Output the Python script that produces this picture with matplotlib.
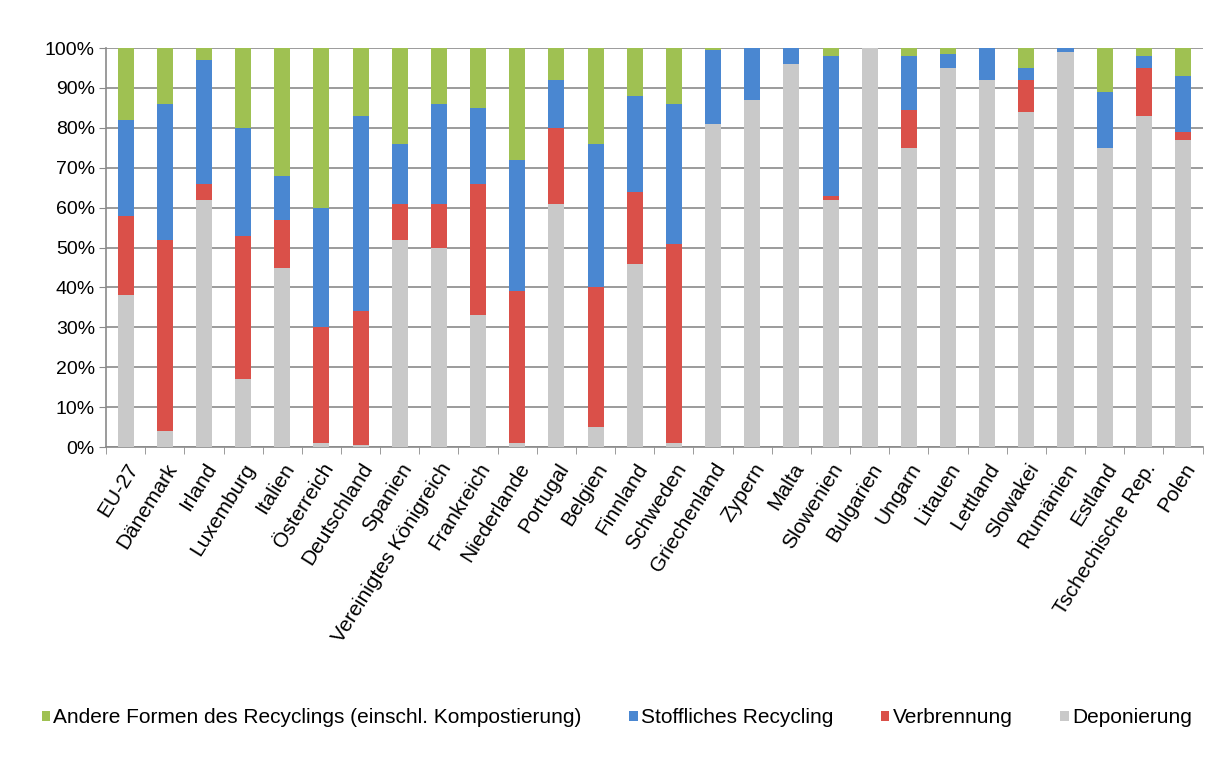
import numpy as np
import matplotlib.pyplot as plt
from matplotlib.ticker import PercentFormatter, FixedLocator

plt.rcParams['font.family'] = ['Liberation Sans', 'DejaVu Sans']

laender = ['EU-27', 'Dänemark', 'Irland', 'Luxemburg', 'Italien', 'Österreich',
           'Deutschland', 'Spanien', 'Vereinigtes Königreich', 'Frankreich',
           'Niederlande', 'Portugal', 'Belgien', 'Finnland', 'Schweden',
           'Griechenland', 'Zypern', 'Malta', 'Slowenien', 'Bulgarien', 'Ungarn',
           'Litauen', 'Lettland', 'Slowakei', 'Rumänien', 'Estland',
           'Tschechische Rep.', 'Polen']

# Anteile in %
deponierung = [38, 4, 62, 17, 45, 1, 0.5, 52, 50, 33, 1, 61, 5, 46, 1,
               81, 87, 96, 62, 100, 75, 95, 92, 84, 99, 75, 83, 77]
verbrennung = [20, 48, 4, 36, 12, 29, 33.5, 9, 11, 33, 38, 19, 35, 18, 50,
               0, 0, 0, 1, 0, 9.5, 0, 0, 8, 0, 0, 12, 2]
stofflich = [24, 34, 31, 27, 11, 30, 49, 15, 25, 19, 33, 12, 36, 24, 35,
             18.5, 13, 4, 35, 0, 13.5, 3.5, 8, 3, 1, 14, 3, 14]
andere = [18, 14, 3, 20, 32, 40, 17, 24, 14, 15, 28, 8, 24, 12, 14,
          0.5, 0, 0, 2, 0, 2, 1.5, 0, 5, 0, 11, 2, 7]

reihen = [
    ('Andere Formen des Recyclings (einschl. Kompostierung)', andere, '#9fc152'),
    ('Stoffliches Recycling', stofflich, '#4a87d1'),
    ('Verbrennung', verbrennung, '#da5049'),
    ('Deponierung', deponierung, '#c9c9c9'),
]

fig = plt.figure(figsize=(12.09, 7.63), dpi=100)
ax = fig.add_axes([0.0877, 0.414, 0.907, 0.523])

x = np.arange(len(laender))
unten = np.zeros(len(laender))
handles = {}
# Stapel von unten: Deponierung, Verbrennung, Stofflich, Andere
for name, werte, farbe in reihen[::-1]:
    werte = np.array(werte, dtype=float)
    b = ax.bar(x, werte, 0.41, bottom=unten, color=farbe, zorder=3, label=name)
    handles[name] = b
    unten += werte

ax.set_xlim(-0.5, len(laender) - 0.5)
ax.set_ylim(0, 100)
ax.set_yticks(np.arange(0, 101, 10))
ax.yaxis.set_major_formatter(PercentFormatter(decimals=0))
ax.grid(axis='y', color='#8a8a8a', linewidth=1.2, zorder=0)

ax.set_xticks(x)
ax.set_xticklabels(laender, rotation=58, ha='right', rotation_mode='anchor')
ax.xaxis.set_minor_locator(FixedLocator(np.arange(-0.5, len(laender), 1)))
ax.tick_params(axis='x', which='major', length=0, pad=9, labelsize=15)
ax.tick_params(axis='x', which='minor', length=5, color='#8a8a8a')
ax.tick_params(axis='y', length=5, color='#8a8a8a', labelsize=14, pad=3)

for s in ['top', 'right']:
    ax.spines[s].set_visible(False)
for s in ['left', 'bottom']:
    ax.spines[s].set_color('#8a8a8a')
    ax.spines[s].set_linewidth(1.2)

namen = [r[0] for r in reihen]
fig.legend([handles[n] for n in namen], namen, loc='center', bbox_to_anchor=(0.51, 0.059),
           ncol=4, frameon=False, fontsize=15, handlelength=0.4, handleheight=0.4,
           handletextpad=0.15, columnspacing=2.3)

fig.savefig('out.png', dpi=100)
